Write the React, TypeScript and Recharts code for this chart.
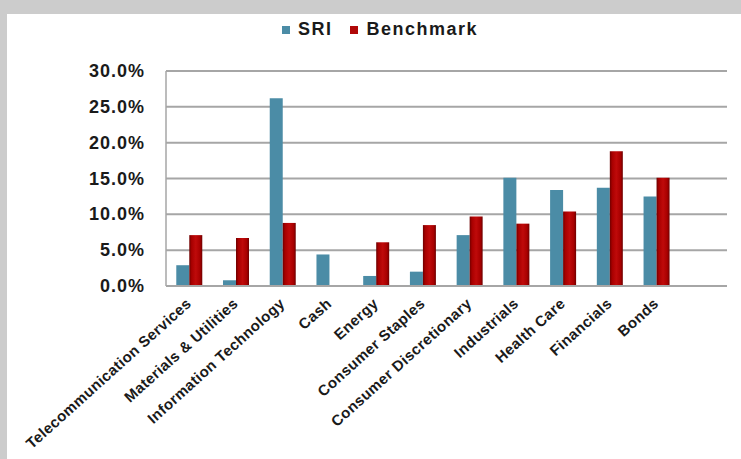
import React from 'react';
import { BarChart, Bar, XAxis, YAxis, CartesianGrid, Legend } from 'recharts';

const categories = [
  'Telecommunication Services',
  'Materials & Utilities',
  'Information Technology',
  'Cash',
  'Energy',
  'Consumer Staples',
  'Consumer Discretionary',
  'Industrials',
  'Health Care',
  'Financials',
  'Bonds',
];
const sriValues = [2.9, 0.8, 26.2, 4.4, 1.4, 2.0, 7.1, 15.1, 13.4, 13.7, 12.5];
const benchmarkValues = [7.1, 6.7, 8.8, 0, 6.1, 8.5, 9.7, 8.7, 10.4, 18.8, 15.1];
const yTicks = [0, 5, 10, 15, 20, 25, 30];

const data = categories.map((name, i) => ({
  name,
  SRI: sriValues[i],
  Benchmark: benchmarkValues[i],
}));

const FONT = '"Liberation Sans", Arial, sans-serif';

const XTick = (props: any) => {
  const { x, y, payload } = props;
  return (
    <text
      x={x + 3}
      y={y + 11}
      transform={`rotate(-42, ${x + 3}, ${y + 11})`}
      textAnchor="end"
      fontFamily={FONT}
      fontWeight="bold"
      fontSize={15}
      letterSpacing={0.4}
      fill="#1a1a1a"
    >
      {payload.value}
    </text>
  );
};

const YTick = (props: any) => {
  const { x, y, payload } = props;
  return (
    <text
      x={x}
      y={y}
      dy={6}
      textAnchor="end"
      fontFamily={FONT}
      fontWeight="bold"
      fontSize={18}
      letterSpacing={1}
      fill="#1a1a1a"
    >
      {`${payload.value.toFixed(1)}%`}
    </text>
  );
};

const LegendContent = () => (
  <div
    style={{
      display: 'flex',
      alignItems: 'center',
      fontFamily: FONT,
      fontWeight: 'bold',
      fontSize: 18,
      letterSpacing: 1.5,
      color: '#1a1a1a',
      whiteSpace: 'nowrap',
    }}
  >
    <span style={{ display: 'inline-block', width: 8, height: 8, background: '#4b8ca6', marginRight: 8 }} />
    <span style={{ marginRight: 17 }}>SRI</span>
    <span style={{ display: 'inline-block', width: 8, height: 8, background: '#b00808', marginRight: 9 }} />
    <span>Benchmark</span>
  </div>
);

export default function App() {
  return (
    <div
      style={{
        position: 'fixed',
        left: 0,
        top: 0,
        width: 741,
        height: 459,
        background: '#cccccc',
        overflow: 'hidden',
      }}
    >
      <div
        style={{
          position: 'absolute',
          left: 7,
          top: 14,
          width: 734,
          height: 445,
          background: '#ffffff',
        }}
      >
        <BarChart
          width={734}
          height={445}
          data={data}
          margin={{ top: 36, right: 14, bottom: 13, left: 0 }}
          barCategoryGap="22%"
          barGap={0}
        >
          <defs>
            <linearGradient id="benchGrad" x1="0" y1="0" x2="1" y2="0">
              <stop offset="0%" stopColor="#6e0000" />
              <stop offset="18%" stopColor="#a80000" />
              <stop offset="50%" stopColor="#bf0a0a" />
              <stop offset="82%" stopColor="#a80000" />
              <stop offset="100%" stopColor="#6e0000" />
            </linearGradient>
          </defs>
          <CartesianGrid vertical={false} stroke="#a6a6a6" strokeWidth={2} />
          <XAxis
            dataKey="name"
            interval={0}
            height={160}
            tick={<XTick />}
            tickLine={false}
            axisLine={{ stroke: '#a6a6a6', strokeWidth: 2 }}
            padding={{ left: 0, right: 47 }}
          />
          <YAxis
            width={159}
            domain={[0, 30]}
            ticks={yTicks}
            tick={<YTick />}
            tickLine={false}
            tickMargin={15}
            axisLine={{ stroke: '#a6a6a6', strokeWidth: 1.5 }}
            interval={0}
          />
          <Legend
            layout="vertical"
            align="center"
            verticalAlign="top"
            content={<LegendContent />}
            wrapperStyle={{ top: 5, left: 275, width: 230 }}
          />
          <Bar dataKey="SRI" fill="#4b8ca6" isAnimationActive={false} />
          <Bar dataKey="Benchmark" fill="url(#benchGrad)" isAnimationActive={false} />
        </BarChart>
      </div>
    </div>
  );
}
